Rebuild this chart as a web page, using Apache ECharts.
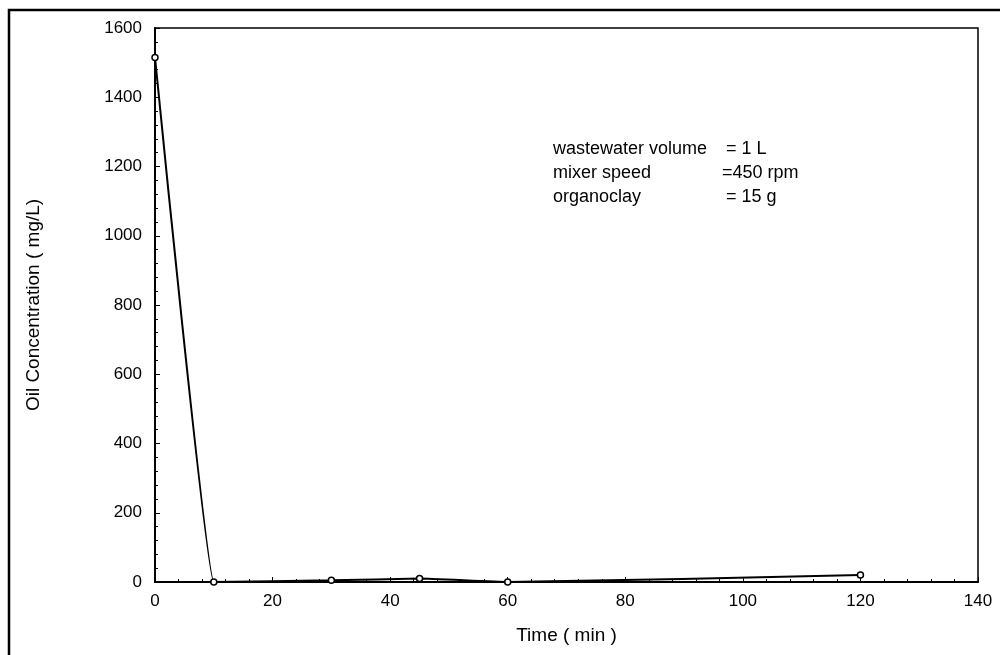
<!DOCTYPE html>
<html>
<head>
<meta charset="utf-8">
<script src="https://cdn.jsdelivr.net/npm/echarts@6/dist/echarts.min.js"></script>
<style>
  html, body { margin: 0; padding: 0; background: #fff; }
  #main { width: 1000px; height: 655px; }
</style>
</head>
<body>
<div id="main"></div>
<script>
// data
var timeMin = [0, 10, 30, 45, 60, 120];
var oilConc = [1515, 0, 5, 10, 0, 20];
var xRange = [0, 140];
var yRange = [0, 1600];

var points = timeMin.map(function (t, i) { return [t, oilConc[i]]; });

var myChart = echarts.init(document.getElementById('main'));
var font = 'Liberation Sans, Arial, sans-serif';
var noteFont = '18px ' + font;

var option = {
    backgroundColor: '#fff',
    animation: false,
    grid: {
        left: 155,
        top: 28,
        right: 22,
        bottom: 73,
        show: true,
        borderColor: '#000',
        borderWidth: 1.5
    },
    xAxis: {
        type: 'value',
        min: xRange[0],
        max: xRange[1],
        interval: 20,
        name: 'Time ( min )',
        nameLocation: 'middle',
        nameGap: 44,
        nameTextStyle: { color: '#000', fontSize: 19, fontFamily: font },
        axisLine: { lineStyle: { color: '#000', width: 2 } },
        axisTick: { inside: true, length: 5, lineStyle: { color: '#000' } },
        minorTick: { show: true, splitNumber: 5, length: 3, lineStyle: { color: '#000' } },
        axisLabel: { color: '#000', fontSize: 17, fontFamily: font, margin: 11 },
        splitLine: { show: false }
    },
    yAxis: {
        type: 'value',
        min: yRange[0],
        max: yRange[1],
        interval: 200,
        name: 'Oil Concentration ( mg/L)',
        nameLocation: 'middle',
        nameGap: 112,
        nameTextStyle: { color: '#000', fontSize: 19, fontFamily: font },
        axisLine: { lineStyle: { color: '#000', width: 2 } },
        axisTick: { inside: true, length: 5, lineStyle: { color: '#000' } },
        minorTick: { show: true, splitNumber: 5, length: 3, lineStyle: { color: '#000' } },
        axisLabel: {
            color: '#000', fontSize: 17, fontFamily: font, margin: 13,
            formatter: function (v) { return String(v); }
        },
        splitLine: { show: false }
    },
    series: [{
        type: 'line',
        data: points,
        smooth: 0.12,
        smoothMonotone: 'x',
        symbol: 'circle',
        symbolSize: 6,
        lineStyle: { color: '#000', width: 2 },
        itemStyle: { color: '#fff', borderColor: '#000', borderWidth: 1.5 }
    }],
    graphic: [
        // outer frame (only top and left edges fall inside the picture)
        { type: 'rect', shape: { x: 9, y: 10, width: 1100, height: 700 },
          style: { fill: 'none', stroke: '#000', lineWidth: 2.5 }, silent: true },
        { type: 'text', left: 553, top: 140, style: { text: 'wastewater volume', fill: '#000', font: noteFont } },
        { type: 'text', left: 726, top: 140, style: { text: '= 1 L', fill: '#000', font: noteFont } },
        { type: 'text', left: 553, top: 164, style: { text: 'mixer speed', fill: '#000', font: noteFont } },
        { type: 'text', left: 722, top: 164, style: { text: '=450 rpm', fill: '#000', font: noteFont } },
        { type: 'text', left: 553, top: 188, style: { text: 'organoclay', fill: '#000', font: noteFont } },
        { type: 'text', left: 726, top: 188, style: { text: '= 15 g', fill: '#000', font: noteFont } }
    ]
};

if (option && typeof option === "object") {
    myChart.setOption(option, true);
}
</script>
</body>
</html>
